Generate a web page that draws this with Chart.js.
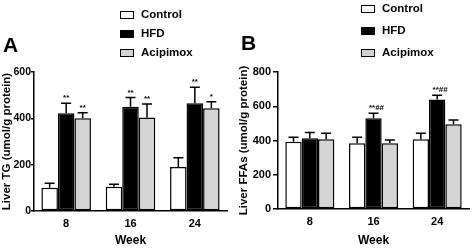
<!DOCTYPE html>
<html>
<head>
<meta charset="utf-8">
<script src="https://cdn.jsdelivr.net/npm/chart.js@4"></script>
<style>
  body { margin: 0; background: #fff; }
  #wrap { position: relative; width: 472px; height: 251px; font-family: Arial, "Liberation Sans", sans-serif; font-weight: bold; color: #000; }
  canvas { position: absolute; top: 0; }
  .letter { position: absolute; font-size: 21px; line-height: 21px; }
  .legend { position: absolute; font-size: 11.5px; }
  .legend div { position: absolute; white-space: nowrap; height: 14px; line-height: 14px; }
  .legend span { display: inline-block; width: 12px; height: 6px; border: 1.5px solid #000; margin-right: 7px; vertical-align: -1px; }
</style>
</head>
<body>
<div id="wrap">
  <canvas id="chartA" width="236" height="251" style="left:0"></canvas>
  <canvas id="chartB" width="236" height="251" style="left:236px"></canvas>
  <div class="letter" style="left:3px;top:34px">A</div>
  <div class="letter" style="left:241px;top:32px">B</div>
  <div class="legend" id="legendA" style="left:120px;top:0"></div>
  <div class="legend" id="legendB" style="left:361px;top:0"></div>
</div>
<script>
// data
const weeks = ["8", "16", "24"];
const groups = ["Control", "HFD", "Acipimox"];
const colors = ["#ffffff", "#000000", "#d4d4d4"];

const tgControl = [100, 105, 190];
const tgControlSem = [20, 10, 40];
const tgHFD = [422, 450, 465];
const tgHFDSem = [43, 40, 69];
const tgAcipimox = [400, 404, 443];
const tgAcipimoxSem = [24, 58, 29];
const tgHFDSig = ["**", "**", "**"];
const tgAcipimoxSig = ["**", "**", "*"];

const ffaControl = [393, 384, 407];
const ffaControlSem = [26, 35, 35];
const ffaHFD = [413, 530, 640];
const ffaHFDSem = [33, 29, 24];
const ffaAcipimox = [407, 384, 495];
const ffaAcipimoxSem = [35, 19, 25];
const ffaHFDSig = ["", "**##", "**##"];

const font = "Arial, 'Liberation Sans', sans-serif";

// upper error bars + significance marks
const errorBars = {
  id: "errorBars",
  afterDatasetsDraw(chart) {
    const ctx = chart.ctx;
    const y = chart.scales.y;
    ctx.save();
    ctx.strokeStyle = "#000";
    ctx.lineWidth = 1.5;
    ctx.fillStyle = "#000";
    ctx.font = "bold 8px " + font;
    ctx.textAlign = "center";
    ctx.textBaseline = "bottom";
    chart.data.datasets.forEach((ds, i) => {
      const meta = chart.getDatasetMeta(i);
      meta.data.forEach((bar, j) => {
        const top = y.getPixelForValue(ds.data[j]);
        const end = y.getPixelForValue(ds.data[j] + ds.sem[j]);
        ctx.beginPath();
        ctx.moveTo(bar.x, top);
        ctx.lineTo(bar.x, end);
        ctx.moveTo(bar.x - 5, end);
        ctx.lineTo(bar.x + 5, end);
        ctx.stroke();
        if (ds.sig && ds.sig[j]) {
          const dx = ds.sig[j].length > 2 ? 3 : 0;
          ctx.fillText(ds.sig[j], bar.x + dx, end - 1);
        }
      });
    });
    ctx.restore();
  }
};

function makeChart(id, values, sems, sigs, max, title, plotW, padLeft, xHeight, tick) {
  const datasets = groups.map((g, i) => ({
    label: g,
    data: values[i],
    sem: sems[i],
    sig: sigs[i],
    backgroundColor: colors[i],
    borderColor: "#000",
    borderWidth: 1.5,
    borderSkipped: false,
    categoryPercentage: 0.77,
    barPercentage: 1
  }));
  return new Chart(document.getElementById(id), {
    type: "bar",
    data: { labels: weeks, datasets },
    options: {
      responsive: false,
      animation: false,
      layout: { padding: { top: 72, left: 0, right: 236 - padLeft - plotW, bottom: 0 } },
      plugins: { legend: { display: false }, tooltip: { enabled: false } },
      scales: {
        x: {
          grid: { display: false, drawTicks: false },
          border: { color: "#000", width: 1.5 },
          ticks: { color: "#000", padding: tick.xPad, font: { family: font, size: 11, weight: "bold" } },
          title: { display: true, text: "Week", color: "#000", font: { family: font, size: 12, weight: "bold" }, padding: { top: 0, bottom: 3 } },
          afterFit: (s) => { s.height = xHeight; }
        },
        y: {
          min: 0,
          max: max,
          grid: { drawOnChartArea: false, drawTicks: true, tickLength: tick.len, color: "#000", lineWidth: 1.5 },
          border: { color: "#000", width: 1.5 },
          ticks: { stepSize: 200, color: "#000", padding: tick.pad, font: { family: font, size: tick.size, weight: "bold" } },
          title: { display: true, text: title, color: "#000", font: { family: font, size: 11.5, weight: "bold" }, padding: { top: tick.titlePad, bottom: 0 } },
          afterFit: (s) => { s.width = padLeft; }
        }
      }
    },
    plugins: [errorBars]
  });
}

function makeLegend(id, tops) {
  const el = document.getElementById(id);
  groups.forEach((g, i) => {
    const row = document.createElement("div");
    row.style.top = (tops[i] - 7) + "px";
    row.innerHTML = `<span style="background:${colors[i]}"></span>${g}`;
    el.appendChild(row);
  });
}

makeChart("chartA",
  [tgControl, tgHFD, tgAcipimox],
  [tgControlSem, tgHFDSem, tgAcipimoxSem],
  [null, tgHFDSig, tgAcipimoxSig],
  600, "Liver TG (umol/g protein)", 193, 34, 40,
  { xPad: 6, len: 3, pad: 0, size: 10.5, titlePad: 0 });

makeChart("chartB",
  [ffaControl, ffaHFD, ffaAcipimox],
  [ffaControlSem, ffaHFDSem, ffaAcipimoxSem],
  [null, ffaHFDSig, null],
  800, "Liver FFAs (umol/g protein)", 191, 42, 42,
  { xPad: 6, len: 5, pad: 2, size: 11, titlePad: 1 });

makeLegend("legendA", [14, 33, 52]);
makeLegend("legendB", [8, 30, 52]);
</script>
</body>
</html>
